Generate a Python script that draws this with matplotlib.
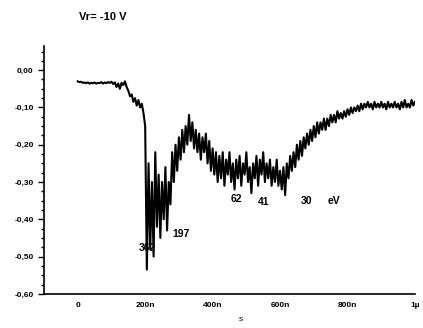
import numpy as np
from matplotlib import pyplot as plt
from matplotlib.ticker import MultipleLocator, FixedLocator, FuncFormatter

# sample times (ns) and signal
t_ns = np.arange(0, 1001, 5)
signal = [
    -0.030, -0.032, -0.031, -0.034, -0.033, -0.035, -0.033, -0.036, -0.034, -0.035,
    -0.033, -0.036, -0.034, -0.035, -0.032, -0.036, -0.033, -0.035, -0.032, -0.034,
    -0.031, -0.037, -0.033, -0.045, -0.036, -0.050, -0.034, -0.040, -0.030, -0.045,
    -0.055, -0.070, -0.065, -0.085, -0.075, -0.095, -0.080, -0.100, -0.090, -0.115,
    -0.150, -0.535, -0.25, -0.48, -0.30, -0.50, -0.22, -0.42, -0.28, -0.45,
    -0.30, -0.40, -0.26, -0.43, -0.30, -0.36, -0.22, -0.30, -0.20, -0.27,
    -0.18, -0.24, -0.16, -0.22, -0.15, -0.20, -0.12, -0.19, -0.14, -0.21,
    -0.16, -0.22, -0.17, -0.24, -0.18, -0.22, -0.17, -0.25, -0.19, -0.27,
    -0.21, -0.28, -0.22, -0.30, -0.23, -0.29, -0.22, -0.31, -0.24, -0.28,
    -0.22, -0.30, -0.25, -0.32, -0.24, -0.29, -0.23, -0.31, -0.25, -0.28,
    -0.22, -0.30, -0.26, -0.33, -0.25, -0.29, -0.23, -0.31, -0.24, -0.28,
    -0.22, -0.30, -0.25, -0.29, -0.24, -0.31, -0.26, -0.30, -0.24, -0.31,
    -0.27, -0.32, -0.26, -0.335, -0.25, -0.29, -0.23, -0.27, -0.22, -0.26,
    -0.20, -0.24, -0.19, -0.23, -0.18, -0.21, -0.17, -0.20, -0.16, -0.19,
    -0.15, -0.18, -0.14, -0.17, -0.14, -0.16, -0.13, -0.16, -0.13, -0.15,
    -0.12, -0.14, -0.12, -0.14, -0.11, -0.13, -0.115, -0.13, -0.11, -0.125,
    -0.105, -0.12, -0.10, -0.115, -0.10, -0.11, -0.095, -0.11, -0.09, -0.105,
    -0.09, -0.10, -0.085, -0.10, -0.09, -0.105, -0.085, -0.10, -0.09, -0.10,
    -0.085, -0.10, -0.09, -0.105, -0.085, -0.10, -0.09, -0.10, -0.085, -0.10,
    -0.09, -0.105, -0.085, -0.10, -0.08, -0.10, -0.09, -0.10, -0.08, -0.095,
    -0.085,
]

xtick_pos = [0, 200e-9, 400e-9, 600e-9, 800e-9, 1e-6]
xtick_lab = ['0', '200n', '400n', '600n', '800n', '1\u00b5']

# peak annotations (label, time s, value)
peak_lab = ['362', '197', '62', '41', '30', 'eV']
peak_t = [207e-9, 307e-9, 470e-9, 551e-9, 677e-9, 760e-9]
peak_y = [-0.477, -0.44, -0.345, -0.354, -0.35, -0.352]

plt.rcParams['font.family'] = ['Liberation Sans', 'DejaVu Sans']
plt.rcParams['font.weight'] = 'bold'

fig = plt.figure(figsize=(4.23, 3.28), dpi=100)
ax = fig.add_axes([0.104, 0.104, 0.877, 0.756])

ax.plot(t_ns * 1e-9, signal, color='black', lw=1.5)

for lab, tx, ty in zip(peak_lab, peak_t, peak_y):
    ax.text(tx, ty, lab, ha='center', va='center', fontsize=7.5)

ax.set_xlim(-0.1e-6, 1.0e-6)
ax.set_ylim(-0.60, 0.065)

ax.xaxis.set_major_locator(FixedLocator(xtick_pos))
ax.set_xticklabels(xtick_lab)
ax.yaxis.set_major_locator(MultipleLocator(0.1))
ax.yaxis.set_minor_locator(MultipleLocator(0.025))
ax.yaxis.set_major_formatter(FuncFormatter(lambda v, p: ('%.2f' % v).replace('.', ',').replace('-0,00', '0,00')))

ax.tick_params(axis='x', length=0, labelsize=6, pad=6)
ax.tick_params(axis='y', which='major', length=4, width=1, labelsize=6, direction='out')
ax.tick_params(axis='y', which='minor', length=2.5, width=1, direction='out')

ax.spines['top'].set_visible(False)
ax.spines['right'].set_visible(False)
ax.spines['left'].set_linewidth(1.2)
ax.spines['bottom'].set_linewidth(1.2)

ax.set_xlabel('s', fontsize=6)
ax.xaxis.set_label_coords(0.53, -0.09)

fig.text(0.243, 0.948, 'Vr= -10 V', ha='center', va='center', fontsize=8)

fig.savefig('out.png', dpi=100)
